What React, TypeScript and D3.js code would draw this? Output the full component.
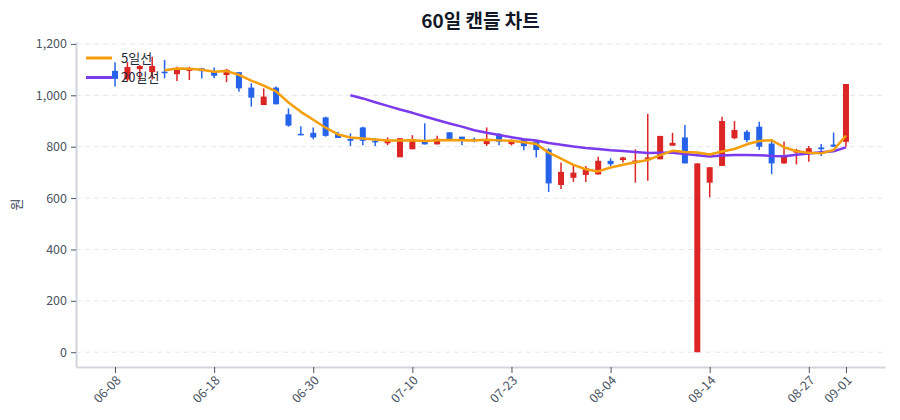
import React, { useRef, useEffect } from "react";
import * as d3 from "d3";

const WIDTH = 900;
const HEIGHT = 420;
const MARGIN = { top: 42, right: 15, bottom: 53, left: 76 };
const FONT = '"Noto Sans CJK KR", "Noto Sans", sans-serif';

const UP = "#dc2626";
const DOWN = "#2563eb";
const MA5_COLOR = "#f59e0b";
const MA20_COLOR = "#7c3aed";

const dates = [
  "06-08", "06-09", "06-10", "06-11", "06-12", "06-15", "06-16", "06-17", "06-18", "06-19",
  "06-22", "06-23", "06-24", "06-25", "06-26", "06-29", "06-30", "07-01", "07-02", "07-03",
  "07-06", "07-07", "07-08", "07-09", "07-10", "07-13", "07-14", "07-15", "07-16", "07-20",
  "07-21", "07-22", "07-23", "07-24", "07-27", "07-28", "07-29", "07-30", "07-31", "08-03",
  "08-04", "08-05", "08-06", "08-07", "08-10", "08-11", "08-12", "08-13", "08-14", "08-18",
  "08-19", "08-20", "08-21", "08-24", "08-25", "08-26", "08-27", "08-28", "08-31", "09-01",
];

const open = [
  1095, 1062, 1102, 1090, 1092, 1082, 1095, 1105, 1092, 1079,
  1090, 1030, 962, 1030, 926, 850, 854, 914, 849, 830,
  875, 823, 813, 759, 790, 819, 809, 856, 839, 830,
  810, 850, 810, 829, 821, 789, 651, 679, 690, 692,
  745, 748, 740, 752, 751, 804, 836, 0, 660, 725,
  833, 858, 878, 812, 735, 777, 778, 797, 808, 819,
];

const high = [
  1129, 1130, 1118, 1150, 1138, 1111, 1111, 1107, 1108, 1103,
  1090, 1047, 1027, 1034, 949, 880, 875, 917, 858, 852,
  878, 833, 836, 833, 845, 891, 843, 856, 839, 836,
  875, 852, 828, 829, 821, 794, 738, 729, 725, 761,
  755, 761, 790, 927, 842, 854, 884, 735, 720, 917,
  900, 865, 897, 830, 820, 792, 803, 810, 855, 1044,
];

const low = [
  1034, 1055, 1060, 1062, 1066, 1056, 1060, 1066, 1066, 1051,
  1014, 956, 962, 965, 878, 845, 829, 839, 834, 803,
  806, 803, 806, 759, 790, 809, 809, 829, 806, 817,
  803, 806, 805, 786, 758, 624, 635, 663, 663, 692,
  725, 738, 660, 667, 751, 804, 735, 0, 603, 725,
  829, 817, 787, 693, 734, 731, 741, 764, 800, 800,
];

const close = [
  1064, 1110, 1114, 1114, 1086, 1099, 1103, 1094, 1076, 1099,
  1027, 991, 995, 965, 882, 845, 836, 842, 834, 823,
  823, 817, 823, 833, 829, 809, 831, 829, 829, 823,
  823, 819, 820, 802, 787, 657, 702, 699, 716, 745,
  732, 758, 746, 758, 842, 815, 735, 735, 720, 900,
  865, 826, 800, 735, 764, 787, 794, 790, 800, 1044,
];

const tickLabels = ["06-08", "06-18", "06-30", "07-10", "07-23", "08-04", "08-14", "08-27", "09-01"];
const yTicks = [0, 200, 400, 600, 800, 1000, 1200];

const legendItems = [
  { label: "5일선", color: MA5_COLOR },
  { label: "20일선", color: MA20_COLOR },
];

function movingAverage(values: number[], n: number) {
  return values.map((_, i) =>
    i < n - 1 ? null : (d3.mean(values.slice(i - n + 1, i + 1)) as number)
  );
}

export default function CandleChart() {
  const svgRef = useRef<SVGSVGElement | null>(null);

  useEffect(() => {
    document.body.style.margin = "0";
    const svg = d3.select(svgRef.current);
    svg.selectAll("*").remove();

    const x = d3
      .scalePoint<string>()
      .domain(dates)
      .range([MARGIN.left, WIDTH - MARGIN.right])
      .padding(3.15);

    const lo = d3.min(low) as number;
    const hi = d3.max(high) as number;
    const pad = (hi - lo) * 0.05;
    const y = d3
      .scaleLinear()
      .domain([lo - pad, hi + pad])
      .range([HEIGHT - MARGIN.bottom, MARGIN.top]);

    // Grid
    svg
      .append("g")
      .selectAll("line")
      .data(yTicks)
      .enter()
      .append("line")
      .attr("x1", MARGIN.left)
      .attr("x2", WIDTH - MARGIN.right)
      .attr("y1", (d) => y(d))
      .attr("y2", (d) => y(d))
      .attr("stroke", "#e5e7eb")
      .attr("stroke-width", 1)
      .attr("stroke-dasharray", "5,4");

    // Axes
    const yAxis = svg
      .append("g")
      .attr("transform", `translate(${MARGIN.left},0)`)
      .call(
        d3
          .axisLeft(y)
          .tickValues(yTicks)
          .tickSize(5)
          .tickSizeOuter(0)
          .tickPadding(4)
          .tickFormat((d) => d3.format(",")(d as number))
      );
    const tickDates = dates.filter((d) => tickLabels.includes(d));
    const xAxis = svg
      .append("g")
      .attr("transform", `translate(0,${HEIGHT - MARGIN.bottom})`)
      .call(d3.axisBottom(x).tickValues(tickDates).tickSize(6).tickSizeOuter(0));

    [yAxis, xAxis].forEach((g) => {
      g.select(".domain").attr("stroke", "#d1d5db").attr("stroke-width", 2);
      g.selectAll(".tick line").attr("stroke", "#4b5563");
      g.selectAll("text")
        .attr("fill", "#4b5563")
        .style("font-family", FONT)
        .style("font-size", "12.5px");
    });
    xAxis
      .selectAll("text")
      .attr("text-anchor", "end")
      .attr("y", 0)
      .attr("dy", "0.35em")
      .attr("transform", "translate(3,11) rotate(-45)");

    // Candles
    const idx = d3.range(dates.length);
    const candles = svg.append("g").selectAll("g").data(idx).enter().append("g");
    candles
      .append("line")
      .attr("x1", (i) => x(dates[i]) as number)
      .attr("x2", (i) => x(dates[i]) as number)
      .attr("y1", (i) => y(high[i]))
      .attr("y2", (i) => y(low[i]))
      .attr("stroke", (i) => (close[i] >= open[i] ? UP : DOWN))
      .attr("stroke-width", 1.5);
    candles
      .append("rect")
      .attr("x", (i) => (x(dates[i]) as number) - 3)
      .attr("width", 6)
      .attr("y", (i) => y(Math.max(open[i], close[i])))
      .attr("height", (i) => Math.max(1.5, Math.abs(y(open[i]) - y(close[i]))))
      .attr("fill", (i) => (close[i] >= open[i] ? UP : DOWN));

    // Moving averages
    const line = d3
      .line<number | null>()
      .defined((d) => d !== null)
      .x((_, i) => x(dates[i]) as number)
      .y((d) => y(d as number));
    [
      { values: movingAverage(close, 20), color: MA20_COLOR },
      { values: movingAverage(close, 5), color: MA5_COLOR },
    ].forEach((s) => {
      svg
        .append("path")
        .datum(s.values)
        .attr("fill", "none")
        .attr("stroke", s.color)
        .attr("stroke-width", 2.5)
        .attr("stroke-linejoin", "round")
        .attr("d", line);
    });

    // Legend
    const legend = svg
      .append("g")
      .selectAll("g")
      .data(legendItems)
      .enter()
      .append("g")
      .attr("transform", (_, i) => `translate(86,${58 + i * 19.5})`);
    legend
      .append("line")
      .attr("x1", 0)
      .attr("x2", 26)
      .attr("stroke", (d) => d.color)
      .attr("stroke-width", 3);
    legend
      .append("text")
      .attr("x", 35)
      .attr("dy", "0.35em")
      .attr("fill", "#1f2937")
      .style("font-family", FONT)
      .style("font-size", "13px")
      .text((d) => d.label);

    // Title
    svg
      .append("text")
      .attr("x", (MARGIN.left + WIDTH - MARGIN.right) / 2)
      .attr("y", 28)
      .attr("text-anchor", "middle")
      .attr("fill", "#111827")
      .style("font-family", FONT)
      .style("font-size", "19px")
      .style("font-weight", "bold")
      .text("60일 캔들 차트");

    // Y label
    svg
      .append("text")
      .attr("transform", `translate(21,${(MARGIN.top + HEIGHT - MARGIN.bottom) / 2}) rotate(-90)`)
      .attr("text-anchor", "middle")
      .attr("fill", "#374151")
      .style("font-family", FONT)
      .style("font-size", "13px")
      .text("원");
  }, []);

  return (
    <svg
      ref={svgRef}
      width={WIDTH}
      height={HEIGHT}
      style={{ display: "block", background: "#ffffff" }}
    />
  );
}
